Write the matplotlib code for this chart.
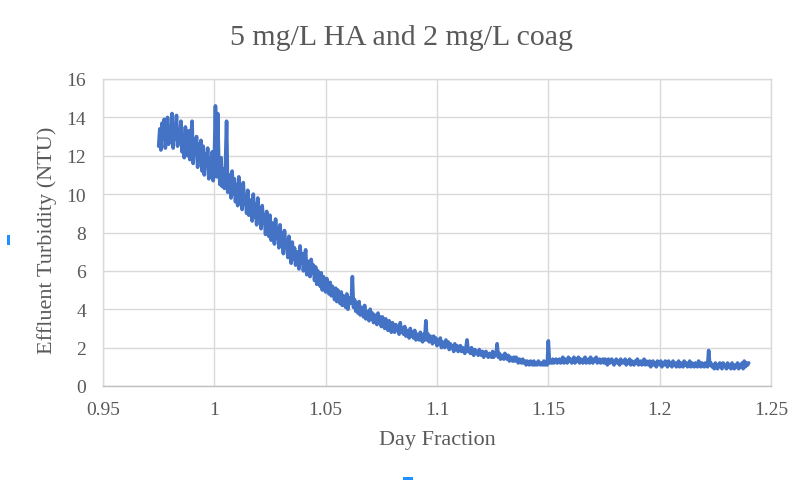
import numpy as np
import matplotlib
matplotlib.use("Agg")
import matplotlib.pyplot as plt
from matplotlib.patches import Rectangle

# ---- data, one reading every 0.0005 day ----
day_start = 0.975
day_end = 1.240
turbidity = [
    # 0.975 - 0.9845
    12.5, 13.4, 12.3, 13.7, 12.9, 13.9, 12.4, 13.2, 14.0, 12.6, 13.5, 12.8, 14.2, 12.4, 13.6, 12.9, 14.1, 12.5, 13.3, 12.7,
    # 0.985 - 0.9945
    13.8, 12.2, 13.1, 11.9, 13.5, 12.4, 12.0, 13.3, 11.8, 12.9, 13.8, 11.6, 12.7, 12.1, 13.0, 11.4, 12.6, 11.9, 12.8, 11.2,
    # 0.995 - 1.0045
    12.5, 11.0, 12.1, 11.5, 12.4, 10.8, 11.9, 11.2, 12.2, 10.7, 11.8, 14.6, 10.9, 14.2, 11.6, 10.5, 11.9, 10.4, 11.3, 10.3,
    # 1.005 - 1.0145
    11.5, 13.8, 10.1, 11.0, 10.6, 9.8, 11.2, 10.0, 10.8, 9.6, 10.5, 9.4, 10.9, 9.7, 10.2, 9.2, 10.6, 9.5, 9.9, 9.0,
    # 1.015 - 1.0245
    10.2, 8.9, 9.7, 9.3, 8.6, 10.0, 8.8, 9.5, 8.4, 9.8, 8.7, 9.2, 8.2, 9.4, 8.5, 8.9, 7.9, 9.1, 8.3, 7.8,
    # 1.025 - 1.0345
    8.9, 7.6, 8.5, 8.0, 7.4, 8.7, 7.7, 8.2, 7.2, 8.4, 7.5, 7.9, 6.9, 8.1, 7.3, 7.6, 6.7, 7.8, 7.0, 6.4,
    # 1.035 - 1.0445
    7.5, 6.6, 7.2, 6.3, 7.0, 6.8, 6.1, 7.3, 6.4, 6.9, 6.0, 6.6, 7.1, 5.8, 6.5, 6.2, 5.7, 6.6, 5.9, 6.3,
    # 1.045 - 1.0545
    5.5, 6.2, 5.3, 6.0, 5.6, 5.2, 5.9, 5.0, 5.7, 5.4, 4.9, 5.6, 5.1, 4.8, 5.4, 4.7, 5.2, 4.9, 4.5, 5.1,
    # 1.055 - 1.0645
    4.4, 5.0, 4.6, 4.3, 4.9, 4.2, 4.7, 4.5, 4.1, 4.8, 4.0, 4.6, 4.3, 4.4, 5.7, 4.1, 4.5, 3.9, 4.3, 3.8,
    # 1.065 - 1.0745
    4.4, 3.7, 4.1, 3.9, 3.6, 4.2, 3.5, 3.9, 3.7, 3.4, 4.0, 3.5, 3.8, 3.3, 3.7, 3.5, 3.2, 3.8, 3.3, 3.6,
    # 1.075 - 1.0845
    3.1, 3.6, 3.3, 3.0, 3.5, 3.1, 2.9, 3.4, 3.2, 2.8, 3.3, 3.0, 2.8, 3.2, 2.9, 3.1, 2.7, 3.3, 2.8, 3.0,
    # 1.085 - 1.0945
    2.7, 3.1, 2.6, 2.9, 2.8, 2.5, 3.0, 2.6, 2.8, 2.5, 2.9, 2.4, 2.7, 2.6, 2.4, 2.8, 2.5, 2.3, 2.7, 2.4,
    # 1.095 - 1.1045
    3.4, 2.4, 2.7, 2.3, 2.6, 2.5, 2.2, 2.6, 2.3, 2.5, 2.1, 2.4, 2.2, 2.5, 2.0, 2.3, 2.2, 2.0, 2.4, 2.1,
    # 1.105 - 1.1145
    2.3, 1.9, 2.2, 2.0, 2.1, 1.8, 2.2, 1.9, 2.1, 1.8, 2.0, 2.1, 1.8, 2.0, 1.9, 1.7, 2.0, 2.4, 1.8, 1.9,
    # 1.115 - 1.1245
    1.7, 2.0, 1.8, 1.6, 1.9, 1.7, 1.8, 1.6, 1.9, 1.7, 1.6, 1.8, 1.5, 1.7, 1.8, 1.6, 1.5, 1.7, 1.6, 1.5,
    # 1.125 - 1.1345
    1.8, 1.5, 1.7, 1.6, 2.2, 1.5, 1.7, 1.4, 1.6, 1.5, 1.4, 1.7, 1.5, 1.4, 1.6, 1.3, 1.5, 1.4, 1.3, 1.5,
    # 1.135 - 1.1445
    1.3, 1.5, 1.4, 1.2, 1.4, 1.3, 1.2, 1.4, 1.2, 1.3, 1.1, 1.3, 1.2, 1.1, 1.3, 1.2, 1.1, 1.3, 1.1, 1.2,
    # 1.145 - 1.1545
    1.1, 1.3, 1.2, 1.1, 1.2, 1.1, 1.3, 1.1, 1.2, 1.1, 2.35, 1.2, 1.3, 1.2, 1.4, 1.2, 1.3, 1.4, 1.2, 1.3,
    # 1.155 - 1.1645
    1.4, 1.2, 1.3, 1.5, 1.2, 1.4, 1.3, 1.2, 1.5, 1.3, 1.4, 1.2, 1.3, 1.5, 1.2, 1.4, 1.3, 1.5, 1.2, 1.4,
    # 1.165 - 1.1745
    1.3, 1.2, 1.4, 1.5, 1.2, 1.3, 1.4, 1.2, 1.5, 1.3, 1.2, 1.4, 1.3, 1.5, 1.2, 1.3, 1.4, 1.2, 1.3, 1.4,
    # 1.175 - 1.1845
    1.2, 1.4, 1.3, 1.1, 1.4, 1.2, 1.3, 1.4, 1.2, 1.1, 1.3, 1.4, 1.2, 1.3, 1.1, 1.4, 1.2, 1.3, 1.2, 1.4,
    # 1.185 - 1.1945
    1.1, 1.3, 1.2, 1.4, 1.1, 1.3, 1.2, 1.1, 1.3, 1.2, 1.4, 1.1, 1.2, 1.3, 1.1, 1.2, 1.4, 1.1, 1.3, 1.2,
    # 1.195 - 1.2045
    1.1, 1.3, 1.0, 1.2, 1.3, 1.1, 1.2, 1.0, 1.3, 1.2, 1.1, 1.3, 1.0, 1.2, 1.1, 1.3, 1.2, 1.0, 1.3, 1.1,
    # 1.205 - 1.2145
    1.2, 1.0, 1.3, 1.1, 1.2, 1.0, 1.1, 1.3, 1.0, 1.2, 1.1, 1.0, 1.3, 1.1, 1.2, 1.0, 1.1, 1.3, 1.0, 1.2,
    # 1.215 - 1.2245
    1.1, 1.0, 1.2, 1.1, 1.0, 1.3, 1.1, 1.0, 1.2, 1.1, 1.0, 1.2, 1.1, 1.0, 1.85, 1.1, 1.2, 1.0, 1.1, 0.9,
    # 1.225 - 1.2345
    1.2, 1.0, 0.9, 1.1, 1.2, 1.0, 0.9, 1.2, 1.1, 1.0, 0.9, 1.2, 1.0, 1.1, 0.9, 1.2, 1.0, 0.9, 1.1, 1.0,
    # 1.235 - 1.240
    1.2, 0.9, 1.1, 1.0, 1.2, 0.9, 1.3, 1.0, 1.2, 1.1, 1.2,
]
x_ticks = [0.95, 1.0, 1.05, 1.1, 1.15, 1.2, 1.25]
x_tick_labels = ["0.95", "1", "1.05", "1.1", "1.15", "1.2", "1.25"]
y_ticks = [0, 2, 4, 6, 8, 10, 12, 14, 16]

title = "5 mg/L HA and 2 mg/L coag"
x_label = "Day Fraction"
y_label = "Effluent Turbidity (NTU)"

days = np.linspace(day_start, day_end, len(turbidity))

# ---- figure ----
serif = ["Liberation Serif", "DejaVu Serif"]
text_col = "#595959"
grid_col = "#D9D9D9"

fig = plt.figure(figsize=(8.07, 4.81), dpi=100)
fig.patch.set_facecolor("white")
ax = fig.add_axes([103 / 807, 1 - 387 / 481, (771 - 103) / 807, (387 - 80) / 481])

ax.plot(days, turbidity, color="#4472C4", lw=2.6, solid_joinstyle="round",
        solid_capstyle="round")

ax.set_xlim(0.95, 1.25)
ax.set_ylim(0, 16)
ax.set_xticks(x_ticks)
ax.set_xticklabels(x_tick_labels)
ax.set_yticks(y_ticks)
ax.grid(True, color=grid_col, lw=1.0)
ax.set_axisbelow(True)
for s in ["top", "right", "left"]:
    ax.spines[s].set_color(grid_col)
    ax.spines[s].set_linewidth(1.0)
ax.spines["bottom"].set_color("#BFBFBF")
ax.spines["bottom"].set_linewidth(1.0)
ax.tick_params(axis="y", length=0, pad=12, colors=text_col, labelsize=14)
ax.tick_params(axis="x", length=0, pad=11, colors=text_col, labelsize=14)
for lab in ax.get_xticklabels() + ax.get_yticklabels():
    lab.set_fontfamily(serif)
    lab.set_color(text_col)

fig.text(437 / 807, 1 - 440 / 481, x_label, fontsize=16, family=serif,
         color=text_col, ha="center", va="center")
fig.text(47 / 807, 1 - 240 / 481, y_label, fontsize=16, family=serif,
         color=text_col, ha="center", va="center", rotation=90)
fig.text(0.5 * (228 + 575) / 807, 1 - 38 / 481, title, fontsize=21.5, family=serif,
         color=text_col, ha="center", va="center")

# small selection markers at the edges of the picture
fig.patches.append(Rectangle((7 / 807, 1 - 246 / 481), 3 / 807, 10 / 481,
                             transform=fig.transFigure, color="#1E90FF", lw=0))
fig.patches.append(Rectangle((403 / 807, 0), 10 / 807, 3 / 481,
                             transform=fig.transFigure, color="#1E90FF", lw=0))

fig.savefig("out.png", dpi=100, facecolor="white")
